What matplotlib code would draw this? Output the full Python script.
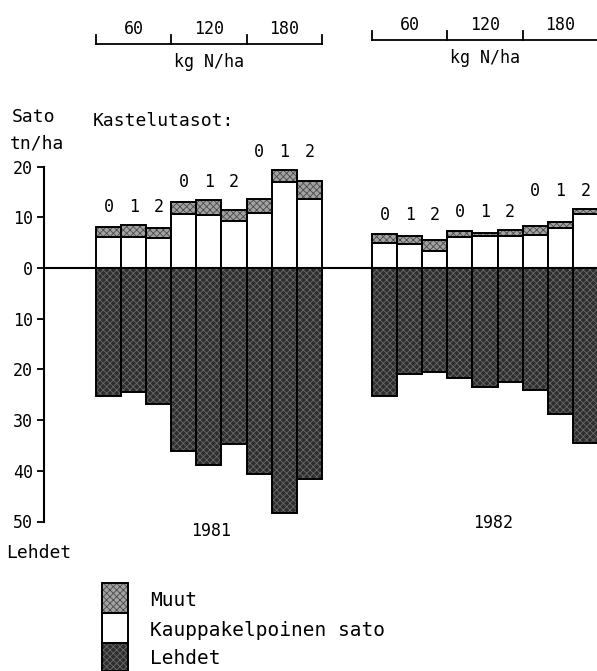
import matplotlib
matplotlib.use('Agg')
import matplotlib.pyplot as plt
import matplotlib.transforms as mtransforms
from matplotlib.patches import Rectangle
import numpy as np

plt.rcParams['font.family'] = ['DejaVu Sans Mono', 'DejaVu Sans']
plt.rcParams['hatch.linewidth'] = 0.6

# kastelutasot 0,1,2 kullakin typpitasolla 60/120/180 kg N/ha
years = ['1981', '1982']
n_levels = ['60', '120', '180']
irrigation = ['0', '1', '2']

kaup_1981 = [6.1, 6.1, 5.9, 10.7, 10.5, 9.3, 10.9, 17.0, 13.6]
muut_1981 = [2.0, 2.4, 2.0, 2.4, 2.9, 2.1, 2.8, 2.3, 3.6]
lehdet_1981 = [25.2, 24.4, 26.9, 36.1, 38.9, 34.8, 40.6, 48.4, 41.7]

kaup_1982 = [4.9, 4.7, 3.4, 6.1, 6.3, 6.4, 6.5, 7.8, 10.6]
muut_1982 = [1.9, 1.7, 2.1, 1.1, 0.7, 1.0, 1.8, 1.3, 1.0]
lehdet_1982 = [25.2, 21.0, 20.5, 21.6, 23.5, 22.4, 24.1, 28.8, 34.6]

yticks = [20, 10, 0, -10, -20, -30, -40, -50]

W, H = 597, 671
fig = plt.figure(figsize=(W / 100, H / 100), dpi=100)
ax = fig.add_axes([44 / W, 1 - 521.5 / H, 1 - 44 / W, (521.5 - 166.6) / H])
ov = fig.add_axes([0, 0, 1, 1], zorder=-1)
ov.set_xlim(0, W)
ov.set_ylim(H, 0)
ov.axis('off')

edge = 'black'
c_muut = '#a2a2a2'
c_lehdet = '#2e2e2e'
lw = 1.4


def stipple_bar(x, h, bottom, face, dots):
    ax.bar(x, h, width=1, bottom=bottom, align='edge', color=face,
           edgecolor=dots, hatch='xxxxx', linewidth=0, zorder=2)
    ax.bar(x, h, width=1, bottom=bottom, align='edge', fill=False,
           edgecolor=edge, linewidth=lw, zorder=3)


starts = [0, 11]
data = [(kaup_1981, muut_1981, lehdet_1981), (kaup_1982, muut_1982, lehdet_1982)]
for s, (kaup, muut, lehdet) in zip(starts, data):
    x = s + np.arange(len(kaup))
    kaup = np.array(kaup)
    muut = np.array(muut)
    ax.bar(x, kaup, width=1, align='edge', color='white', edgecolor=edge,
           linewidth=lw, zorder=3)
    stipple_bar(x, muut, kaup, c_muut, '#4a4a4a')
    stipple_bar(x, -np.array(lehdet), 0, c_lehdet, '#6a6a6a')
    # kastelutasojen numerot ryhmien ylle
    tot = kaup + muut
    for g in range(3):
        top = tot[g * 3:g * 3 + 3].max()
        for k, lab in enumerate(irrigation):
            ax.annotate(lab, xy=(x[g * 3 + k] + 0.5, top), xytext=(0, 13),
                        textcoords='offset points', ha='center', va='center',
                        fontsize=12, annotation_clip=False)

ax.axhline(0, color='black', linewidth=1.5, zorder=4)

ax.set_xlim(-2.07, (W - 96) / 25.1)
ax.set_ylim(-50, 20)
ax.set_yticks(yticks)
ax.set_yticklabels([str(abs(t)) for t in yticks], fontsize=12)
ax.tick_params(axis='y', direction='out', length=5, width=1.3, pad=3)
ax.set_xticks([])
for side in ['top', 'right', 'bottom']:
    ax.spines[side].set_visible(False)
ax.spines['left'].set_linewidth(1.5)
ax.patch.set_alpha(0)

# typpitasojen hakaset ylhäällä
blend = mtransforms.blended_transform_factory(ax.transData, ov.transData)
for s, ly in zip(starts, [44, 40]):
    ov.plot([s, s + 9], [ly, ly], color='black', lw=1.3, transform=blend,
            clip_on=False)
    for xx in [s, s + 3, s + 6, s + 9]:
        ov.plot([xx, xx], [ly, ly - 9], color='black', lw=1.3, transform=blend,
                clip_on=False)
    for g, lab in enumerate(n_levels):
        ov.text(s + 1.5 + 3 * g, ly - 15, lab, transform=blend, ha='center',
                va='center', fontsize=12)
    ov.text(s + 4.5, ly + 18, 'kg N/ha', transform=blend, ha='center',
            va='center', fontsize=12)

ov.text(12, 117, 'Sato', fontsize=13, va='center')
ov.text(10, 143, 'tn/ha', fontsize=13, va='center')
ov.text(93, 121, 'Kastelutasot:', fontsize=13, va='center')
ov.text(6, 553, 'Lehdet', fontsize=13, va='center')
ov.text(4.6, -51.8, years[0], transform=ax.transData, ha='center',
        va='center', fontsize=12)
ov.text(15.8, -50.2, years[1], transform=ax.transData, ha='center',
        va='center', fontsize=12)

# selite
lx, lw_box = 102, 26
boxes = [(583, 30, c_muut, '#4a4a4a', 'Muut'),
         (613, 30, 'white', None, 'Kauppakelpoinen sato'),
         (643, 28, c_lehdet, '#6a6a6a', 'Lehdet')]
for y0, h, face, dots, lab in boxes:
    if dots:
        ov.add_patch(Rectangle((lx, y0), lw_box, h, facecolor=face,
                               edgecolor=dots, hatch='xxxxx', linewidth=0))
    ov.add_patch(Rectangle((lx, y0), lw_box, h, fill=False, edgecolor='black',
                           linewidth=lw))
    ov.text(150, y0 + h / 2 + 2, lab, fontsize=14, va='center')

fig.savefig('out.png', dpi=100)
